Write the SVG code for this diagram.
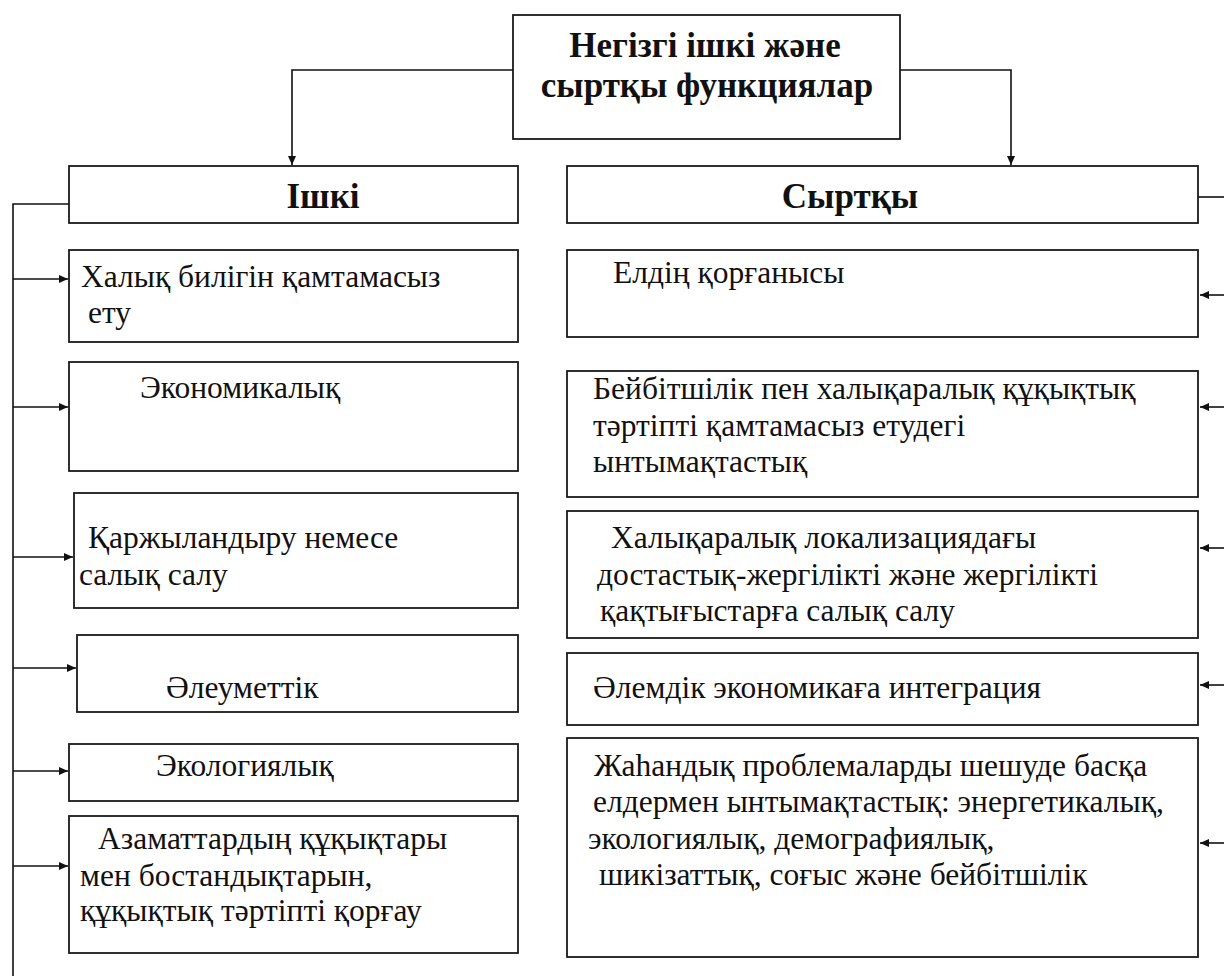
<svg xmlns="http://www.w3.org/2000/svg" width="1224" height="978" viewBox="0 0 1224 978">
<style>
.box{fill:#fff;stroke:#1a1a1a;stroke-width:1.8}
.c{fill:none;stroke:#111;stroke-width:1.6}
</style>
<defs>
<marker id="ah" markerUnits="userSpaceOnUse" markerWidth="10" markerHeight="8" refX="9" refY="4" orient="auto">
<path d="M0,0 L9,4 L0,8 Z" fill="#111"/>
</marker>
</defs>
<rect width="1224" height="978" fill="#fff"/>
<g id="connectors">
<path class="c" d="M513,70 H292 V165" marker-end="url(#ah)"/>
<path class="c" d="M900,70 H1011 V165" marker-end="url(#ah)"/>
<path class="c" d="M69,204 H13 V976"/>
<path class="c" d="M13,279 H68" marker-end="url(#ah)"/>
<path class="c" d="M13,407 H68" marker-end="url(#ah)"/>
<path class="c" d="M13,557 H73" marker-end="url(#ah)"/>
<path class="c" d="M13,668 H76" marker-end="url(#ah)"/>
<path class="c" d="M13,771 H68" marker-end="url(#ah)"/>
<path class="c" d="M13,866 H68" marker-end="url(#ah)"/>
<path class="c" d="M1198,197 H1224"/>
<path class="c" d="M1224,295 H1200" marker-end="url(#ah)"/>
<path class="c" d="M1224,407 H1200" marker-end="url(#ah)"/>
<path class="c" d="M1224,548 H1200" marker-end="url(#ah)"/>
<path class="c" d="M1224,685 H1200" marker-end="url(#ah)"/>
<path class="c" d="M1224,843 H1200" marker-end="url(#ah)"/>
</g>
<g id="nodes" font-family="Times New Roman, Liberation Serif, serif" font-size="31.5" fill="#111">
<g id="root" font-weight="bold" font-size="35">
<rect class="box" x="513" y="15" width="387" height="124"/>
<text x="705" y="57" text-anchor="middle">Негізгі ішкі және</text>
<text x="707" y="97" text-anchor="middle">сыртқы функциялар</text>
</g>
<g id="ishki" font-weight="bold" font-size="35">
<rect class="box" x="69" y="166" width="449" height="57"/>
<text x="323" y="208" text-anchor="middle">Ішкі</text>
</g>
<g id="syrtky" font-weight="bold" font-size="35">
<rect class="box" x="567" y="166" width="631" height="57"/>
<text x="850" y="208" text-anchor="middle">Сыртқы</text>
</g>
<g id="l1">
<rect class="box" x="69" y="250" width="449" height="92"/>
<text x="81" y="287">Халық билігін қамтамасыз</text>
<text x="88" y="323">ету</text>
</g>
<g id="l2">
<rect class="box" x="69" y="362" width="449" height="109"/>
<text x="140" y="398">Экономикалық</text>
</g>
<g id="l3">
<rect class="box" x="74" y="493" width="444" height="115"/>
<text x="88" y="548">Қаржыландыру немесе</text>
<text x="79" y="585">салық салу</text>
</g>
<g id="l4">
<rect class="box" x="77" y="635" width="441" height="77"/>
<text x="166" y="698">Әлеуметтік</text>
</g>
<g id="l5">
<rect class="box" x="69" y="744" width="449" height="57"/>
<text x="156" y="776">Экологиялық</text>
</g>
<g id="l6">
<rect class="box" x="69" y="816" width="449" height="137"/>
<text x="98" y="849">Азаматтардың құқықтары</text>
<text x="80" y="886">мен бостандықтарын,</text>
<text x="80" y="921">құқықтық тәртіпті қорғау</text>
</g>
<g id="r1">
<rect class="box" x="567" y="250" width="631" height="87"/>
<text x="613" y="283">Елдің қорғанысы</text>
</g>
<g id="r2">
<rect class="box" x="567" y="371" width="631" height="126"/>
<text x="593" y="399">Бейбітшілік пен халықаралық құқықтық</text>
<text x="593" y="436">тәртіпті қамтамасыз етудегі</text>
<text x="593" y="472">ынтымақтастық</text>
</g>
<g id="r3">
<rect class="box" x="567" y="511" width="631" height="127"/>
<text x="611" y="548">Халықаралық локализациядағы</text>
<text x="597" y="585">достастық-жергілікті және жергілікті</text>
<text x="600" y="621">қақтығыстарға салық салу</text>
</g>
<g id="r4">
<rect class="box" x="567" y="653" width="631" height="72"/>
<text x="593" y="698">Әлемдік экономикаға интеграция</text>
</g>
<g id="r5">
<rect class="box" x="567" y="738" width="631" height="219"/>
<text x="594" y="776">Жаһандық проблемаларды шешуде басқа</text>
<text x="593" y="812">елдермен ынтымақтастық: энергетикалық,</text>
<text x="588" y="849">экологиялық, демографиялық,</text>
<text x="599" y="885">шикізаттық, соғыс және бейбітшілік</text>
</g>
</g>
</svg>
